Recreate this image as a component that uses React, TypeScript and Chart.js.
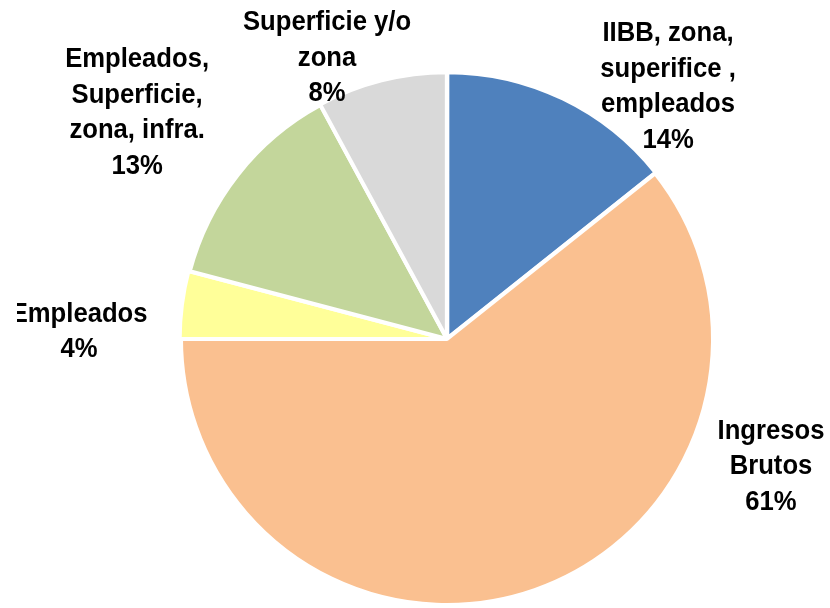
import React, { useEffect, useRef } from "react";
import { Chart, registerables } from "chart.js";

Chart.register(...registerables);

const categories: string[][] = [
  ["IIBB, zona,", "superifice ,", "empleados"],
  ["Ingresos", "Brutos"],
  ["Empleados"],
  ["Empleados,", "Superficie,", "zona, infra."],
  ["Superficie y/o", "zona"],
];
const values: number[] = [14.3, 60.7, 4.1, 13.0, 7.9];
const colors: string[] = ["#4F81BD", "#FAC090", "#FFFF99", "#C3D69B", "#D9D9D9"];
const explode: number[] = [3, 0, 3, 0, 2];

// label block centers, relative to pie center in units of the radius
const labelAnchors: [number, number][] = [
  [0.831, -0.947],
  [1.218, 0.481],
  [-1.383, -0.026],
  [-1.165, -0.85],
  [-0.451, -1.056],
];

const labelPlugin = {
  id: "outsideLabels",
  afterDatasetsDraw(chart: any) {
    const ctx = chart.ctx as CanvasRenderingContext2D;
    const meta = chart.getDatasetMeta(0);
    const total = values.reduce((a, b) => a + b, 0);
    const lineH = 35.5;
    const scaleX = 0.95;
    ctx.save();
    ctx.beginPath();
    ctx.rect(17, 0, chart.width - 17, chart.height);
    ctx.clip();
    ctx.fillStyle = "#000000";
    ctx.font = "bold 27px 'Liberation Sans', Arial, sans-serif";
    ctx.textAlign = "center";
    ctx.textBaseline = "middle";
    meta.data.forEach((arc: any, i: number) => {
      const r = arc.outerRadius;
      const cx = arc.x + labelAnchors[i][0] * r;
      const cy = arc.y + labelAnchors[i][1] * r;
      const lines = [...categories[i], Math.round((values[i] / total) * 100) + "%"];
      const startY = cy - ((lines.length - 1) * lineH) / 2;
      lines.forEach((ln, j) => {
        ctx.save();
        ctx.translate(cx, startY + j * lineH);
        ctx.scale(scaleX, 1);
        ctx.fillText(ln, 0, 0);
        ctx.restore();
      });
    });
    ctx.restore();
  },
};

export default function App() {
  const ref = useRef<HTMLCanvasElement | null>(null);
  useEffect(() => {
    if (!ref.current) return;
    const chart = new Chart(ref.current, {
      type: "pie",
      data: {
        labels: categories.map((c) => c.join(" ")),
        datasets: [
          {
            data: values,
            backgroundColor: colors,
            borderColor: "#FFFFFF",
            borderWidth: 4,
            offset: explode,
          },
        ],
      },
      options: {
        responsive: false,
        animation: false,
        devicePixelRatio: 1,
        layout: { padding: { left: 177.5, top: 69.5, right: 113.5, bottom: 11.5 } },
        plugins: {
          legend: { display: false },
          tooltip: { enabled: false },
        },
      },
      plugins: [labelPlugin],
    });
    return () => chart.destroy();
  }, []);
  return (
    <div style={{ position: "absolute", left: 0, top: 0, width: 830, height: 608, overflow: "hidden", background: "#FFFFFF" }}>
      <canvas ref={ref} width={830} height={620} style={{ display: "block" }} />
    </div>
  );
}
